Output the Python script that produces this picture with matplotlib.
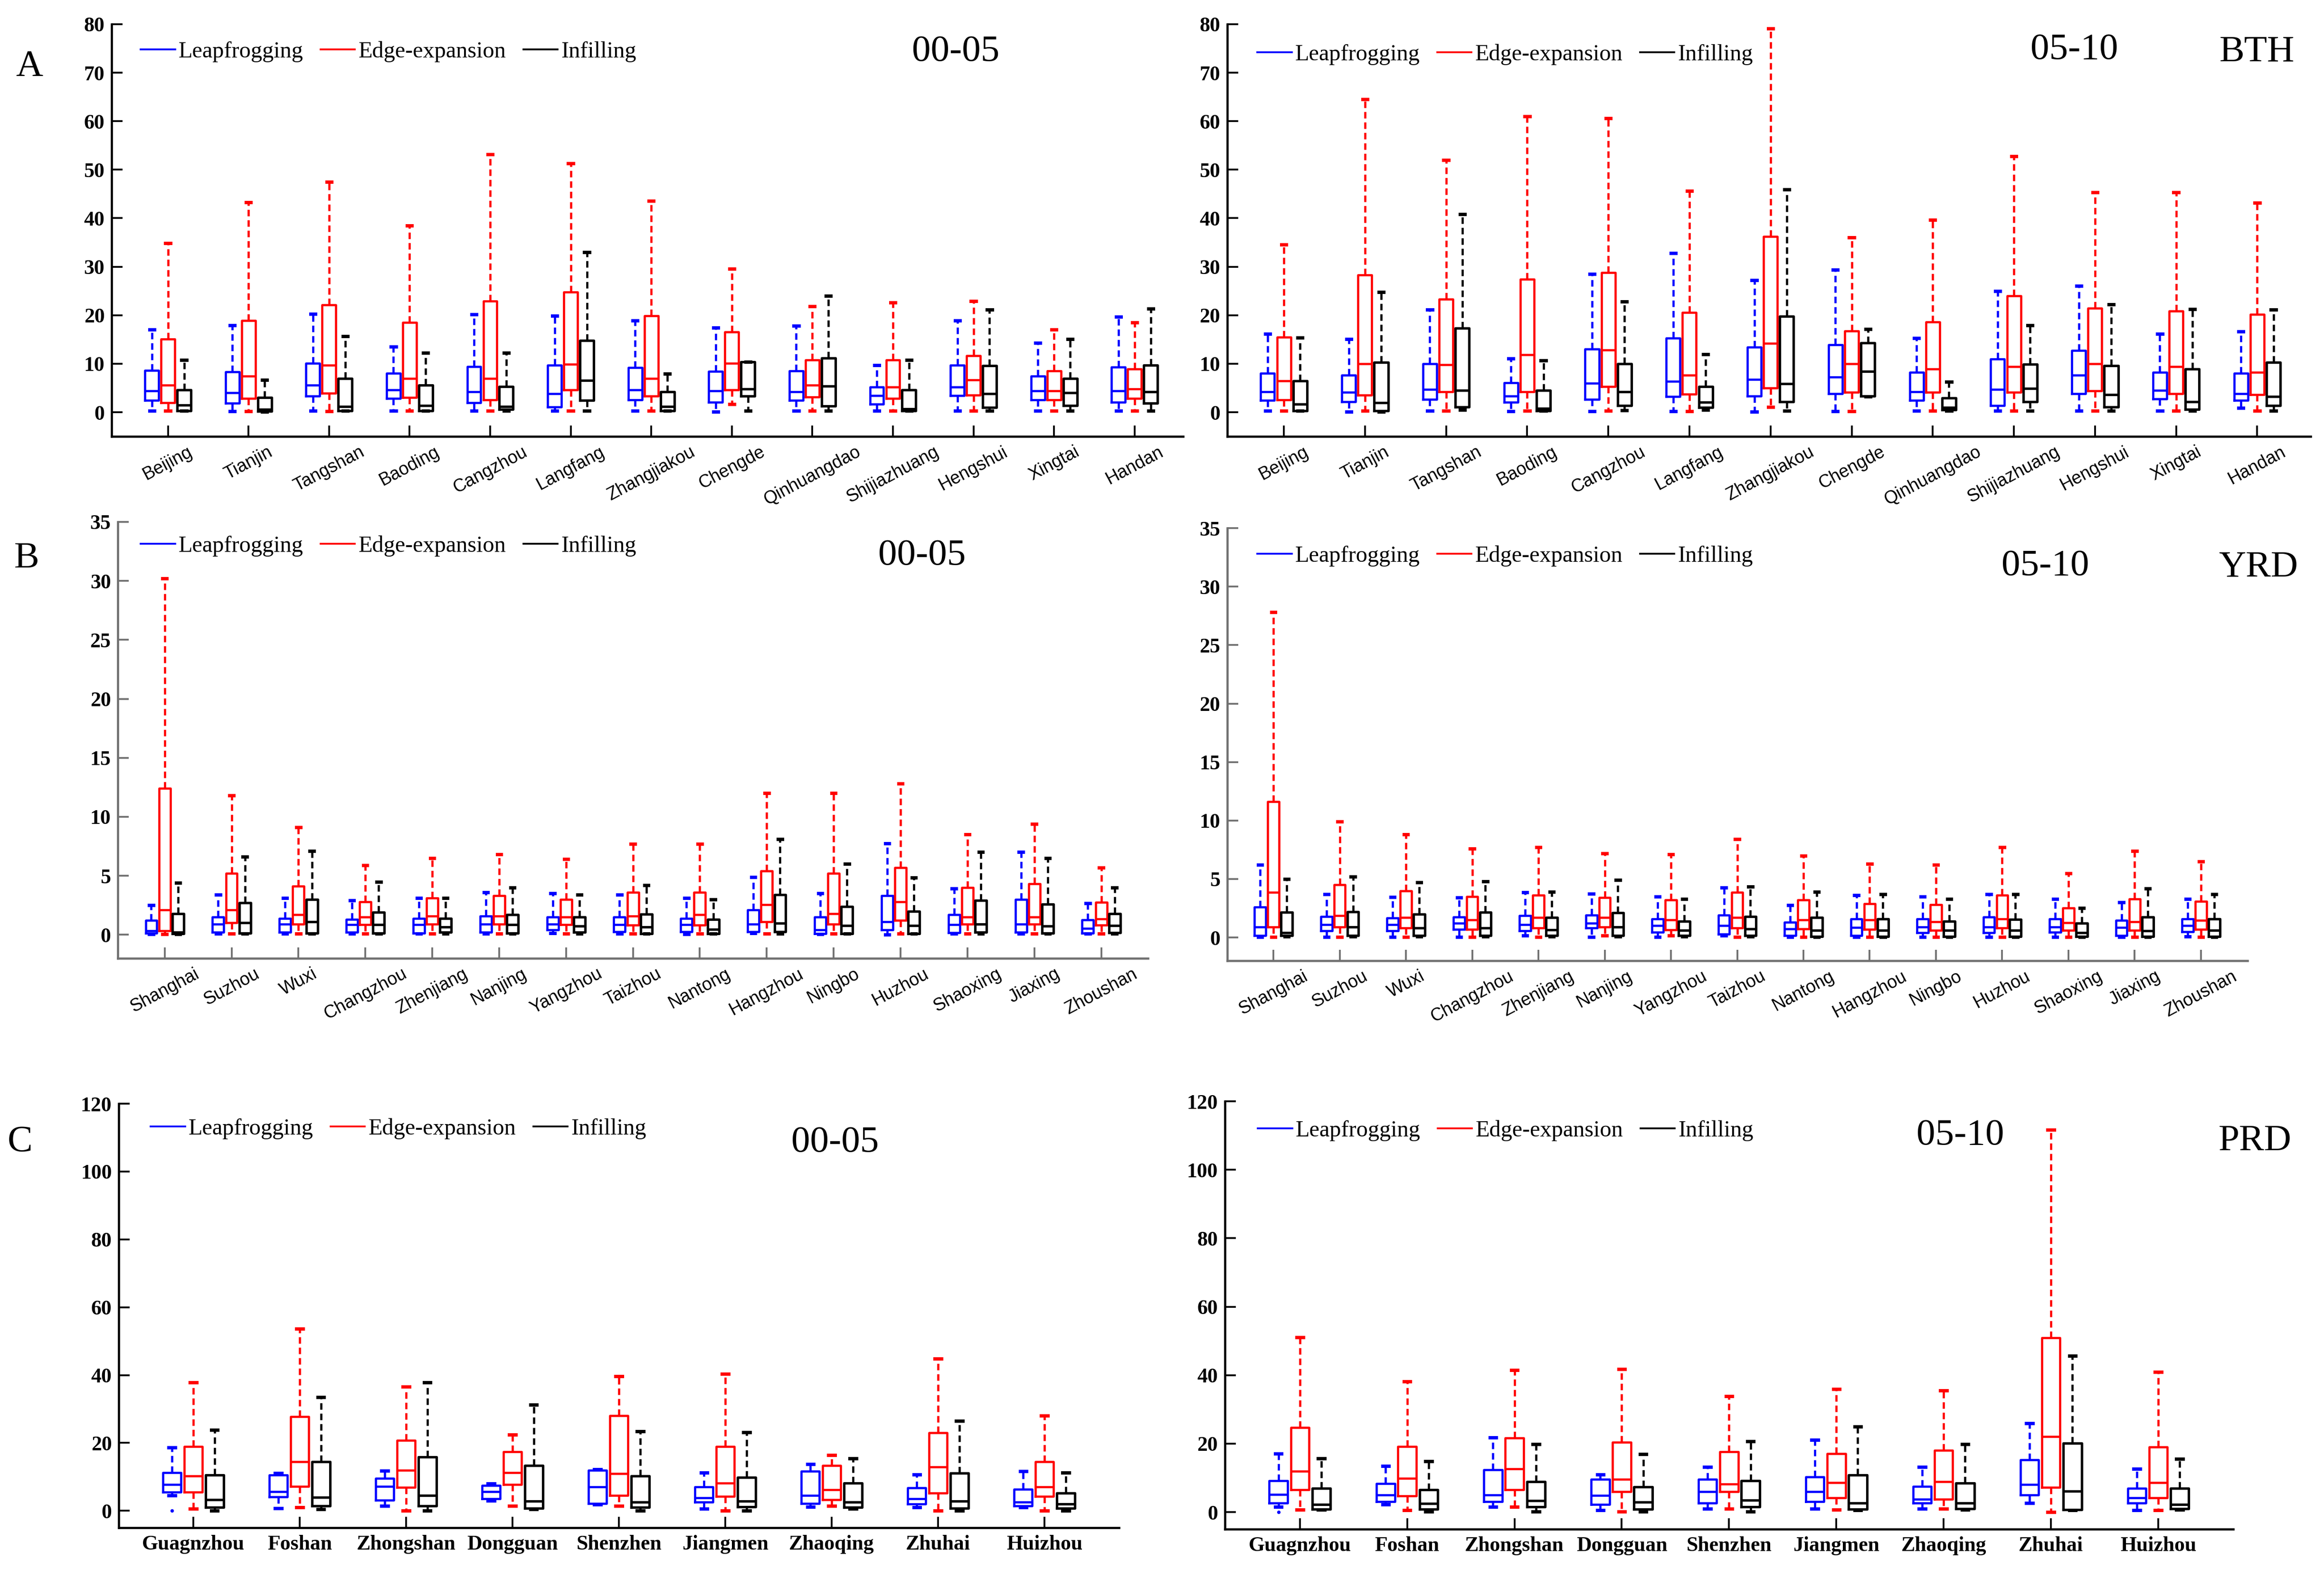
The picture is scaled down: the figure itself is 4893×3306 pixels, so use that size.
import matplotlib
matplotlib.use("Agg")
import matplotlib.pyplot as plt
from matplotlib.lines import Line2D
from matplotlib.font_manager import FontProperties

# ---------------- DATA (whislo, q1, median, q3, whishi) ----------------
bth_cities = ["Beijing", "Tianjin", "Tangshan", "Baoding", "Cangzhou", "Langfang",
              "Zhangjiakou", "Chengde", "Qinhuangdao", "Shijiazhuang", "Hengshui",
              "Xingtai", "Handan"]
yrd_cities = ["Shanghai", "Suzhou", "Wuxi", "Changzhou", "Zhenjiang", "Nanjing",
              "Yangzhou", "Taizhou", "Nantong", "Hangzhou", "Ningbo", "Huzhou",
              "Shaoxing", "Jiaxing", "Zhoushan"]
prd_cities = ["Guagnzhou", "Foshan", "Zhongshan", "Dongguan", "Shenzhen", "Jiangmen",
              "Zhaoqing", "Zhuhai", "Huizhou"]

series_names = ["Leapfrogging", "Edge-expansion", "Infilling"]

bth00_leap = [(0.3, 2.4, 4.4, 8.6, 17.0), (0.2, 1.9, 4.0, 8.3, 17.9), (0.3, 3.3, 5.6, 10.1, 20.3),
              (0.3, 2.8, 4.6, 8.0, 13.5), (0.3, 2.0, 4.2, 9.4, 20.2), (0.3, 1.1, 3.8, 9.7, 19.9),
              (0.3, 2.5, 4.6, 9.2, 18.9), (0.1, 2.1, 4.4, 8.4, 17.4), (0.3, 2.4, 4.2, 8.5, 17.8),
              (0.3, 1.7, 3.4, 5.2, 9.7), (0.3, 3.4, 5.2, 9.7, 18.9), (0.3, 2.5, 4.4, 7.4, 14.3),
              (0.3, 2.1, 4.4, 9.3, 19.7)]
bth00_edge = [(0.3, 2.0, 5.6, 15.1, 34.9), (0.2, 2.8, 7.4, 18.9, 43.3), (0.2, 3.9, 9.7, 22.1, 47.5),
              (0.3, 3.0, 7.0, 18.5, 38.5), (0.3, 2.5, 7.0, 22.9, 53.2), (0.3, 4.6, 9.9, 24.8, 51.3),
              (0.3, 3.3, 7.0, 19.9, 43.6), (1.7, 4.6, 10.1, 16.5, 29.6), (0.3, 3.1, 5.6, 10.8, 21.8),
              (0.3, 2.8, 5.2, 10.8, 22.6), (0.3, 3.5, 6.7, 11.7, 22.9), (0.3, 2.5, 4.4, 8.5, 17.0),
              (0.3, 2.8, 4.8, 8.9, 18.5)]
bth00_infill = [(0.3, 0.3, 1.5, 4.6, 10.8), (0.1, 0.2, 0.6, 3.0, 6.7), (0.3, 0.3, 1.2, 7.0, 15.7),
                (0.3, 0.3, 1.4, 5.6, 12.2), (0.3, 0.6, 1.2, 5.3, 12.2), (0.3, 2.4, 6.6, 14.8, 33.0),
                (0.3, 0.3, 1.2, 4.2, 7.9), (0.3, 3.3, 4.8, 10.4, 10.4), (0.3, 1.3, 5.4, 11.2, 24.0),
                (0.3, 0.3, 0.7, 4.6, 10.8), (0.3, 1.0, 3.8, 9.6, 21.1), (0.3, 1.4, 4.0, 7.0, 15.1),
                (0.3, 1.9, 4.2, 9.7, 21.3)]

bth05_leap = [(0.3, 2.4, 4.2, 8.0, 16.2), (0.1, 2.2, 4.1, 7.6, 15.1), (0.3, 2.6, 4.7, 10.0, 21.1),
              (0.2, 2.1, 3.3, 6.1, 11.1), (0.2, 2.6, 6.0, 13.0, 28.5), (0.2, 3.2, 6.4, 15.3, 32.8),
              (0.1, 3.3, 6.8, 13.4, 27.2), (0.2, 3.8, 7.2, 13.9, 29.4), (0.3, 2.4, 4.2, 8.2, 15.3),
              (0.3, 1.4, 4.7, 11.0, 25.0), (0.3, 3.8, 7.6, 12.7, 26.0), (0.3, 2.7, 4.5, 8.2, 16.2),
              (0.9, 2.4, 3.8, 8.0, 16.6)]
bth05_edge = [(0.3, 2.5, 6.5, 15.5, 34.6), (0.3, 3.5, 10.0, 28.3, 64.5), (0.3, 4.2, 9.8, 23.3, 52.0),
              (0.3, 4.2, 11.8, 27.4, 61.0), (0.3, 5.3, 12.8, 28.8, 60.6), (0.2, 3.7, 7.6, 20.6, 45.6),
              (1.1, 5.0, 14.2, 36.2, 79.1), (0.2, 4.1, 10.0, 16.7, 36.0), (0.3, 4.1, 8.9, 18.6, 39.7),
              (0.3, 4.1, 9.4, 24.0, 52.8), (0.3, 4.4, 10.0, 21.4, 45.3), (0.3, 3.8, 9.4, 20.9, 45.3),
              (0.3, 3.6, 8.2, 20.2, 43.2)]
bth05_infill = [(0.3, 0.3, 1.7, 6.5, 15.4), (0.1, 0.3, 2.0, 10.3, 24.8), (0.5, 1.1, 4.5, 17.3, 40.8),
                (0.3, 0.3, 0.8, 4.5, 10.7), (0.4, 1.4, 4.2, 10.0, 22.8), (0.5, 1.0, 2.1, 5.3, 11.9),
                (0.3, 2.2, 5.9, 19.8, 45.9), (3.2, 3.3, 8.4, 14.3, 17.1), (0.3, 0.5, 1.0, 2.9, 6.3),
                (0.3, 2.2, 4.9, 9.9, 17.9), (0.3, 1.1, 3.6, 9.6, 22.2), (0.3, 0.6, 2.2, 8.9, 21.2),
                (0.3, 1.4, 3.2, 10.3, 21.1)]

yrd00_leap = [(0.05, 0.15, 0.35, 1.2, 2.5), (0.1, 0.2, 0.9, 1.5, 3.4), (0.1, 0.2, 0.9, 1.4, 3.1),
              (0.1, 0.2, 0.85, 1.3, 2.9), (0.1, 0.15, 0.85, 1.4, 3.1), (0.1, 0.2, 0.9, 1.6, 3.6),
              (0.15, 0.4, 0.9, 1.5, 3.5), (0.1, 0.25, 0.85, 1.5, 3.4), (0.05, 0.25, 0.85, 1.4, 3.1),
              (0.13, 0.25, 0.9, 2.1, 4.9), (0.05, 0.1, 0.43, 1.5, 3.5), (0.02, 0.4, 1.1, 3.3, 7.75),
              (0.1, 0.17, 0.85, 1.7, 3.9), (0.1, 0.2, 0.9, 3.0, 7.0), (0.1, 0.13, 0.53, 1.25, 2.65)]
yrd00_edge = [(0.05, 0.35, 2.1, 12.4, 30.2), (0.1, 1.0, 2.1, 5.2, 11.8), (0.1, 0.9, 1.7, 4.1, 9.1),
              (0.1, 0.85, 1.5, 2.8, 5.9), (0.1, 0.9, 1.6, 3.1, 6.5), (0.1, 0.9, 1.6, 3.3, 6.8),
              (0.1, 0.85, 1.5, 3.0, 6.4), (0.1, 0.8, 1.6, 3.6, 7.7), (0.1, 0.8, 1.7, 3.6, 7.7),
              (0.1, 1.1, 2.55, 5.4, 12.0), (0.1, 0.9, 1.8, 5.2, 12.0), (0.1, 1.2, 2.8, 5.7, 12.8),
              (0.1, 0.9, 1.5, 4.0, 8.5), (0.1, 0.9, 1.5, 4.3, 9.4), (0.1, 0.8, 1.35, 2.75, 5.7)]
yrd00_infill = [(0.05, 0.1, 0.2, 1.8, 4.4), (0.1, 0.15, 1.0, 2.7, 6.6), (0.1, 0.15, 1.1, 3.0, 7.1),
                (0.1, 0.15, 0.85, 1.9, 4.5), (0.1, 0.2, 0.65, 1.4, 3.1), (0.1, 0.15, 0.85, 1.7, 4.0),
                (0.1, 0.2, 0.75, 1.5, 3.4), (0.1, 0.1, 0.67, 1.75, 4.2), (0.1, 0.1, 0.47, 1.3, 3.0),
                (0.1, 0.25, 0.97, 3.4, 8.1), (0.1, 0.1, 0.77, 2.4, 6.0), (0.1, 0.1, 0.77, 2.0, 4.85),
                (0.1, 0.2, 0.9, 2.9, 7.0), (0.1, 0.13, 0.75, 2.6, 6.5), (0.1, 0.17, 0.77, 1.8, 4.0)]

yrd05_leap = [(0.05, 0.15, 0.9, 2.6, 6.2), (0.05, 0.55, 1.1, 1.8, 3.7), (0.05, 0.55, 1.1, 1.65, 3.45),
              (0.05, 0.7, 1.2, 1.75, 3.4), (0.15, 0.55, 1.1, 1.85, 3.85), (0.05, 0.8, 1.2, 1.9, 3.75),
              (0.05, 0.45, 1.0, 1.6, 3.5), (0.15, 0.3, 1.0, 1.9, 4.25), (0.05, 0.15, 0.75, 1.3, 2.75),
              (0.05, 0.15, 0.85, 1.6, 3.6), (0.05, 0.4, 0.9, 1.6, 3.5), (0.05, 0.4, 0.9, 1.75, 3.7),
              (0.05, 0.45, 0.9, 1.6, 3.3), (0.05, 0.15, 0.85, 1.45, 3.0), (0.1, 0.5, 1.0, 1.6, 3.3)]
yrd05_edge = [(0.05, 0.9, 3.85, 11.6, 27.8), (0.05, 0.9, 1.85, 4.5, 9.9), (0.05, 0.8, 1.7, 4.0, 8.8),
              (0.05, 0.7, 1.5, 3.5, 7.6), (0.05, 0.8, 1.7, 3.6, 7.7), (0.15, 0.9, 1.7, 3.4, 7.2),
              (0.15, 0.65, 1.5, 3.2, 7.1), (0.05, 0.8, 1.7, 3.85, 8.4), (0.05, 0.75, 1.5, 3.2, 7.0),
              (0.05, 0.7, 1.5, 2.9, 6.3), (0.05, 0.6, 1.35, 2.8, 6.2), (0.05, 0.8, 1.6, 3.6, 7.7),
              (0.05, 0.6, 1.25, 2.5, 5.5), (0.05, 0.6, 1.35, 3.3, 7.4), (0.05, 0.7, 1.45, 3.1, 6.5)]
yrd05_infill = [(0.1, 0.15, 0.4, 2.15, 5.0), (0.1, 0.15, 0.9, 2.2, 5.2), (0.1, 0.15, 0.8, 2.0, 4.7),
                (0.1, 0.15, 0.8, 2.15, 4.8), (0.1, 0.15, 0.65, 1.7, 3.9), (0.1, 0.15, 0.9, 2.1, 4.9),
                (0.1, 0.15, 0.6, 1.4, 3.3), (0.1, 0.15, 0.75, 1.8, 4.35), (0.05, 0.1, 0.6, 1.7, 3.9),
                (0.05, 0.1, 0.6, 1.6, 3.7), (0.05, 0.1, 0.6, 1.4, 3.3), (0.05, 0.1, 0.6, 1.55, 3.7),
                (0.05, 0.1, 0.4, 1.2, 2.5), (0.05, 0.1, 0.55, 1.75, 4.2), (0.05, 0.1, 0.6, 1.6, 3.7)]

prd00_leap = [(4.5, 5.5, 7.7, 11.2, 18.7), (0.8, 4.1, 5.6, 10.5, 11.1), (1.5, 3.1, 7.2, 9.6, 11.8),
              (3.0, 3.5, 5.6, 7.5, 8.0), (1.9, 2.1, 7.0, 12.0, 12.2), (0.6, 2.5, 3.8, 7.0, 11.2),
              (1.2, 2.2, 4.5, 11.7, 13.7), (1.0, 2.0, 3.5, 6.7, 10.7), (1.0, 1.5, 2.5, 6.4, 11.7)]
prd00_edge = [(0.6, 5.5, 10.2, 19.0, 37.9), (1.0, 7.2, 14.4, 27.8, 53.6), (0.1, 6.9, 12.0, 20.7, 36.6),
              (1.5, 7.7, 11.2, 17.4, 22.5), (1.5, 4.5, 11.0, 28.1, 39.6), (0.1, 4.2, 8.2, 19.0, 40.3),
              (1.5, 3.3, 6.2, 13.3, 16.4), (0.1, 5.2, 12.9, 23.0, 44.8), (0.1, 4.2, 7.0, 14.4, 28.0)]
prd00_infill = [(0.1, 1.0, 3.3, 10.5, 23.8), (0.4, 1.5, 4.0, 14.4, 33.5), (0.1, 1.5, 4.5, 15.9, 37.9),
                (0.5, 0.8, 2.9, 13.3, 31.3), (0.1, 1.0, 2.5, 10.2, 23.4), (0.1, 1.2, 2.9, 9.9, 23.2),
                (0.6, 1.0, 2.5, 8.2, 15.4), (0.1, 0.8, 2.9, 11.1, 26.5), (0.1, 0.8, 2.0, 5.2, 11.2)]
prd00_leap_outliers = [[0.0], [], [], [], [], [], [], [], []]

prd05_leap = [(1.5, 2.7, 5.2, 9.1, 17.1), (2.2, 3.1, 5.0, 8.3, 13.4), (1.5, 3.1, 5.0, 12.3, 21.8),
              (0.5, 2.2, 4.9, 9.6, 11.0), (1.0, 2.7, 5.9, 9.6, 13.2), (1.0, 3.1, 5.9, 10.2, 21.1),
              (1.0, 2.7, 3.7, 7.5, 13.2), (2.7, 5.0, 8.0, 15.3, 25.9), (0.5, 2.7, 4.1, 6.9, 12.6)]
prd05_edge = [(0.7, 6.5, 12.0, 24.7, 51.0), (0.5, 4.7, 9.8, 19.2, 38.2), (1.5, 6.5, 12.6, 21.7, 41.5),
              (0.2, 6.0, 9.6, 20.4, 41.7), (1.0, 5.9, 8.2, 17.6, 33.9), (0.7, 4.1, 8.6, 17.1, 36.0),
              (1.0, 3.7, 8.9, 18.0, 35.5), (0.0, 7.2, 22.0, 50.9, 111.7), (0.5, 4.1, 8.6, 19.0, 41.0)]
prd05_infill = [(0.7, 0.9, 2.2, 7.0, 15.7), (0.2, 0.9, 2.5, 6.5, 14.8), (0.2, 1.5, 3.3, 8.9, 19.9),
                (0.2, 0.9, 2.9, 7.4, 16.9), (0.2, 1.5, 3.5, 9.2, 20.7), (0.5, 0.9, 2.7, 10.8, 25.0),
                (0.7, 1.0, 2.7, 8.5, 19.8), (0.5, 0.7, 6.1, 20.1, 45.6), (0.7, 1.0, 2.2, 6.9, 15.6)]
prd05_leap_outliers = [[0.0], [], [], [], [], [], [], [], []]

bth_yticks = [0, 10, 20, 30, 40, 50, 60, 70, 80]
yrd_yticks = [0, 5, 10, 15, 20, 25, 30, 35]
prd_yticks = [0, 20, 40, 60, 80, 100, 120]

# ---------------- STYLE ----------------
W, H = 4893, 3306
DPI = 300
fig = plt.figure(figsize=(W / DPI, H / DPI), dpi=DPI)
fig.patch.set_facecolor("white")

colors = ["#0000ff", "#ff0000", "#000000"]
SERIF = ["Liberation Serif", "DejaVu Serif"]
SANS = ["Liberation Sans", "DejaVu Sans"]


def fx(px):
    return px / W


def fy(py):
    return 1 - py / H


def to_stats(rows, outliers=None):
    out = []
    for i, r in enumerate(rows):
        fl = outliers[i] if outliers is not None else []
        out.append(dict(whislo=r[0], q1=r[1], med=r[2], q3=r[3], whishi=r[4], fliers=fl))
    return out


def draw_panel(rect, cities, series, xlim, ylim, yticks, rotate, spine_color,
               outliers=(None, None, None)):
    ax = fig.add_axes(rect)
    n = len(cities)
    base = list(range(1, n + 1))
    offsets = [-0.2, 0.0, 0.2]
    for k, rows in enumerate(series):
        c = colors[k]
        lw = 1.1 if k < 2 else 1.25
        pos = [b + offsets[k] for b in base]
        ax.bxp(to_stats(rows, outliers[k]), positions=pos, widths=0.17,
               showfliers=True, manage_ticks=False, capwidths=0.06,
               boxprops=dict(color=c, linewidth=lw),
               medianprops=dict(color=c, linewidth=lw),
               whiskerprops=dict(color=c, linewidth=1.1, linestyle=(0, (3.0, 1.8))),
               capprops=dict(color=c, linewidth=1.7),
               flierprops=dict(marker='.', markersize=1.5, markerfacecolor=c,
                               markeredgecolor=c, linestyle='none'))
    ax.set_xlim(*xlim)
    ax.set_ylim(*ylim)
    ax.set_xticks(base)
    if rotate:
        ax.set_xticklabels(cities, rotation=28, ha='center', va='top',
                           fontfamily=SANS, fontsize=9)
    else:
        ax.set_xticklabels(cities, fontfamily=SERIF, fontweight='bold', fontsize=10.5)
    ax.set_yticks(yticks)
    ax.set_yticklabels([str(t) for t in yticks], fontfamily=SERIF,
                       fontweight='bold', fontsize=10.5)
    ax.spines['top'].set_visible(False)
    ax.spines['right'].set_visible(False)
    for s in ('left', 'bottom'):
        ax.spines[s].set_color(spine_color)
        ax.spines[s].set_linewidth(1.1)
    ax.tick_params(direction='in', length=5.5, width=0.9, colors=spine_color,
                   labelcolor='black', pad=3.5)
    ax.set_facecolor('none')
    return ax


def add_legend(ax, x, y):
    handles = [Line2D([], [], color=c, linewidth=0.9) for c in colors]
    ax.legend(handles, series_names, loc='center left', bbox_to_anchor=(x, y),
              bbox_transform=fig.transFigure, ncol=3, frameon=False,
              borderpad=0, borderaxespad=0, handlelength=1.5, handletextpad=0.15,
              columnspacing=0.75, prop=FontProperties(family=SERIF, size=11.6))


def label(x, y, s, size=19):
    fig.text(x, y, s, ha='center', va='center', fontfamily=SERIF, fontsize=size)


# ---------------- PANELS ----------------
axA1 = draw_panel([0.048, 0.722, 0.461, 0.2626], bth_cities,
                  [bth00_leap, bth00_edge, bth00_infill], (0.3, 13.6), (-5, 80),
                  bth_yticks, True, 'black')
axA2 = draw_panel([0.528, 0.722, 0.4663, 0.2626], bth_cities,
                  [bth05_leap, bth05_edge, bth05_infill], (0.3, 13.66), (-5, 80),
                  bth_yticks, True, 'black')
axB1 = draw_panel([0.0507, 0.3896, 0.4433, 0.278], yrd_cities,
                  [yrd00_leap, yrd00_edge, yrd00_infill], (0.3, 15.7), (-2, 35),
                  yrd_yticks, True, '#707070')
axB2 = draw_panel([0.528, 0.388, 0.439, 0.2756], yrd_cities,
                  [yrd05_leap, yrd05_edge, yrd05_infill], (0.3, 15.7), (-2, 35),
                  yrd_yticks, True, '#707070')
axC1 = draw_panel([0.0511, 0.0269, 0.4304, 0.2701], prd_cities,
                  [prd00_leap, prd00_edge, prd00_infill], (0.3, 9.7), (-5, 120),
                  prd_yticks, False, 'black', outliers=(prd00_leap_outliers, None, None))
axC2 = draw_panel([0.527, 0.026, 0.434, 0.2725], prd_cities,
                  [prd05_leap, prd05_edge, prd05_infill], (0.3, 9.7), (-5, 120),
                  prd_yticks, False, 'black', outliers=(prd05_leap_outliers, None, None))

add_legend(axA1, fx(296), fy(109))
add_legend(axA2, fx(2647), fy(115))
add_legend(axB1, fx(296), fy(1150))
add_legend(axB2, fx(2647), fy(1171))
add_legend(axC1, fx(317), fy(2377))
add_legend(axC2, fx(2648), fy(2381))

label(fx(2012), fy(109), "00-05")
label(fx(4367), fy(105), "05-10")
label(fx(4752), fy(110), "BTH")
label(fx(1941), fy(1170), "00-05")
label(fx(4306), fy(1192), "05-10")
label(fx(4755), fy(1195), "YRD")
label(fx(1758), fy(2406), "00-05")
label(fx(4127), fy(2391), "05-10")
label(fx(4748), fy(2403), "PRD")
label(fx(62), fy(140), "A")
label(fx(56), fy(1176), "B")
label(fx(42), fy(2405), "C")

fig.savefig("out.png", dpi=DPI, facecolor='white')
